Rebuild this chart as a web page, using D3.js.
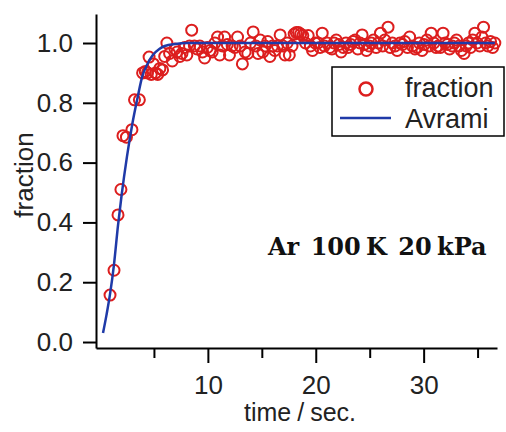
<!DOCTYPE html>
<html>
<head>
<meta charset="utf-8">
<script src="https://cdn.jsdelivr.net/npm/d3@7"></script>
<style>
  body { margin: 0; background: #fff; }
  svg { display: block; }
  .axis path, .axis line { stroke: #000; stroke-width: 2; }
  .axis text { font-family: "Liberation Sans", Arial, sans-serif; font-size: 26px; fill: #222; }
</style>
</head>
<body>
<div id="chart"></div>
<script>
// measured points (time in s, transformed fraction)
var timeSec = [0.93, 1.30, 1.67, 1.94, 2.13, 2.45, 2.96, 3.20, 3.65, 3.95, 4.20, 4.40, 4.55, 4.75, 4.95, 5.15, 5.35, 5.55, 5.80, 6.00,
  6.20, 6.45, 6.70, 6.95, 7.15, 7.40, 7.60, 7.85, 8.05, 8.30, 8.50, 8.75, 9.00, 9.25, 9.50, 9.70, 9.95, 10.2, 10.4, 10.65,
  10.9, 11.1, 11.35, 11.55, 11.8, 12.0, 12.25, 12.5, 12.75, 13.0, 13.2, 13.45, 13.7, 13.95, 14.2, 14.45, 14.65, 14.85, 15.1, 15.3,
  15.55, 15.75, 16.0, 16.2, 16.45, 16.7, 16.95, 17.15, 17.35, 17.55, 17.8, 18.0, 18.2, 18.4, 18.6, 18.8, 19.05, 19.3, 19.5, 19.7,
  19.95, 20.2, 20.4, 20.6, 20.8, 21.05, 21.3, 21.5, 21.7, 21.9, 22.15, 22.35, 22.55, 22.8, 23.0, 23.25, 23.45, 23.65, 23.9, 24.1,
  24.3, 24.5, 24.7, 24.95, 25.15, 25.35, 25.6, 25.8, 26.0, 26.2, 26.4, 26.7, 26.9, 27.1, 27.35, 27.55, 27.8, 28.05, 28.25, 28.5,
  28.7, 28.95, 29.2, 29.4, 29.6, 29.85, 30.05, 30.3, 30.5, 30.7, 30.95, 31.15, 31.35, 31.55, 31.8, 32.0, 32.2, 32.4, 32.65, 32.85,
  33.05, 33.3, 33.5, 33.75, 33.95, 34.15, 34.35, 34.55, 34.75, 34.95, 35.2, 35.4, 35.55, 35.75, 35.95, 36.2, 36.4, 36.6];
var fraction = [0.157, 0.24, 0.425, 0.51, 0.69, 0.685, 0.71, 0.81, 0.81, 0.90, 0.905, 0.90, 0.953, 0.895, 0.93, 0.90, 0.895, 0.915, 0.91, 0.955,
  1.0, 0.965, 0.94, 0.98, 0.97, 0.955, 0.965, 0.985, 0.96, 0.99, 1.043, 0.99, 0.98, 0.99, 0.97, 0.95, 0.985, 0.975, 0.97, 1.0,
  1.02, 0.96, 0.99, 1.02, 0.995, 0.96, 0.99, 0.985, 1.02, 0.99, 0.93, 0.97, 0.965, 1.0, 1.037, 0.99, 0.965, 1.01, 0.97, 0.99,
  1.005, 0.955, 0.99, 0.975, 0.99, 1.027, 0.99, 0.96, 1.0, 0.96, 0.99, 1.03, 1.035, 1.035, 1.03, 1.025, 1.0, 1.025, 0.99, 0.975,
  1.0, 1.0, 0.985, 1.033, 0.99, 1.0, 0.985, 0.98, 1.0, 1.01, 0.995, 0.97, 0.985, 1.0, 0.985, 0.995, 1.005, 1.01, 0.98, 1.0,
  1.027, 0.995, 0.975, 0.99, 1.0, 1.01, 0.985, 1.0, 1.033, 0.99, 1.01, 1.053, 0.985, 1.0, 0.99, 0.975, 1.0, 0.995, 1.005, 0.985,
  1.02, 0.99, 0.98, 0.985, 1.0, 0.975, 0.995, 1.01, 0.99, 1.033, 1.0, 0.985, 0.99, 0.985, 1.033, 1.0, 0.995, 0.98, 0.99, 1.0,
  1.01, 0.99, 0.975, 0.965, 0.99, 1.0, 0.985, 1.01, 1.033, 1.0, 0.99, 1.02, 1.053, 1.0, 0.99, 1.005, 0.985, 1.0];

// Avrami fit curve
var fitTime = [0.28, 0.6, 0.93, 1.3, 1.67, 2.0, 2.5, 3.0, 3.5, 3.9, 4.4, 4.9, 5.5, 6.0, 7.0, 8.0, 36.6];
var fitFraction = [0.03, 0.09, 0.16, 0.26, 0.39, 0.49, 0.62, 0.73, 0.82, 0.886, 0.93, 0.96, 0.98, 0.99, 0.997, 1.0, 1.0];

var yTicks = [0, 0.2, 0.4, 0.6, 0.8, 1.0];
var xMajor = [10, 20, 30];
var xMinor = [5, 15, 25, 35];

var W = 506, H = 432;
var red = '#dc1e1e', blue = '#1f3aa8';

var svg = d3.select('#chart').append('svg')
    .attr('width', W)
    .attr('height', H);

var x = d3.scaleLinear().domain([-0.37, 36.8]).range([96, 497]);
var y = d3.scaleLinear().domain([-0.02, 1.097]).range([348, 14]);

var pts = timeSec.map(function(t, i) { return {t: t, f: fraction[i]}; });
var fit = fitTime.map(function(t, i) { return {t: t, f: fitFraction[i]}; });

// data markers
svg.append('g').selectAll('circle')
    .data(pts).enter().append('circle')
    .attr('cx', function(d) { return x(d.t); })
    .attr('cy', function(d) { return y(d.f); })
    .attr('r', 5.5)
    .attr('fill', 'none')
    .attr('stroke', red)
    .attr('stroke-width', 2);

// fit line
var line = d3.line()
    .x(function(d) { return x(d.t); })
    .y(function(d) { return y(d.f); })
    .curve(d3.curveMonotoneX);

svg.append('path')
    .datum(fit)
    .attr('d', line)
    .attr('fill', 'none')
    .attr('stroke', blue)
    .attr('stroke-width', 2.5);

// axes
svg.append('g')
    .attr('class', 'axis')
    .attr('transform', 'translate(96,0)')
    .call(d3.axisLeft(y).tickValues(yTicks).tickSize(13).tickSizeOuter(0).tickPadding(10).tickFormat(d3.format('.1f')));

svg.append('g')
    .attr('class', 'axis')
    .attr('transform', 'translate(0,348)')
    .call(d3.axisBottom(x).tickValues(xMinor).tickSize(10).tickSizeOuter(0).tickFormat(''));

svg.append('g')
    .attr('class', 'axis')
    .attr('transform', 'translate(0,348)')
    .call(d3.axisBottom(x).tickValues(xMajor).tickSize(15).tickSizeOuter(0).tickPadding(13).tickFormat(d3.format('d')))
    .select('.domain').remove();

// axis titles
var title = svg.append('text')
    .attr('x', 300)
    .attr('y', 421)
    .attr('text-anchor', 'middle')
    .style('font-family', '"Liberation Sans", Arial, sans-serif')
    .style('font-size', '25px')
    .style('fill', '#222');
title.append('tspan').text('time');
title.append('tspan').attr('dx', 6).text('/');
title.append('tspan').attr('dx', 6).text('sec.');

svg.append('text')
    .attr('transform', 'translate(33,175) rotate(-90)')
    .attr('text-anchor', 'middle')
    .style('font-family', '"Liberation Sans", Arial, sans-serif')
    .style('font-size', '26px')
    .style('fill', '#222')
    .text('fraction');

// annotation
var note = svg.append('text')
    .attr('x', 268)
    .attr('y', 255)
    .style('font-family', '"DejaVu Serif", serif')
    .style('font-weight', 'bold')
    .style('font-size', '24px')
    .style('fill', '#111');
note.append('tspan').text('Ar ');
note.append('tspan').attr('dx', 3).text('100');
note.append('tspan').attr('dx', -3).text(' K ');
note.append('tspan').attr('dx', 3).text('20');
note.append('tspan').attr('dx', -3).text(' kPa');

// legend
var lg = svg.append('g');
lg.append('rect')
    .attr('x', 332).attr('y', 67)
    .attr('width', 172).attr('height', 69)
    .attr('fill', '#fff')
    .attr('stroke', '#000')
    .attr('stroke-width', 1.5);
lg.append('circle')
    .attr('cx', 366).attr('cy', 89).attr('r', 6.5)
    .attr('fill', 'none').attr('stroke', red).attr('stroke-width', 2.5);
lg.append('line')
    .attr('x1', 340).attr('x2', 391).attr('y1', 118).attr('y2', 118)
    .attr('stroke', blue).attr('stroke-width', 2.5);
lg.selectAll('text.lab')
    .data(['fraction', 'Avrami']).enter().append('text')
    .attr('class', 'lab')
    .attr('x', 405)
    .attr('y', function(d, i) { return i ? 128 : 97; })
    .style('font-family', '"Liberation Sans", Arial, sans-serif')
    .style('font-size', '27px')
    .style('fill', '#222')
    .text(function(d) { return d; });
</script>
</body>
</html>
